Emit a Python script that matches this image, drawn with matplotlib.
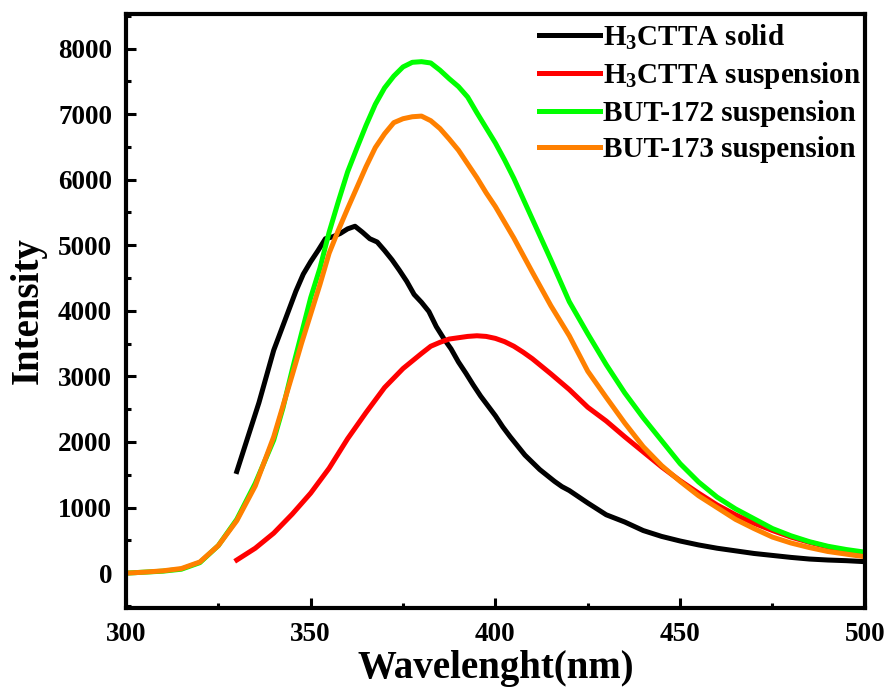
import matplotlib
matplotlib.use("Agg")
import matplotlib.pyplot as plt
from matplotlib.ticker import MultipleLocator

# H3CTTA solid
wl_solid = [330, 332, 334, 336, 338, 340, 342, 344, 346, 348, 350, 352, 354, 356, 358,
            360, 362, 364, 366, 368, 370, 372, 374, 376, 378, 380, 382, 384, 386, 388,
            390, 392, 394, 396, 398, 400, 402, 404, 406, 408, 410, 412, 414, 416, 418,
            420, 425, 430, 435, 440, 445, 450, 455, 460, 465, 470, 475, 480, 485, 490,
            495, 500]
int_solid = [1550, 1900, 2250, 2600, 3000, 3400, 3700, 4000, 4300, 4560, 4750, 4920, 5100,
             5130, 5180, 5250, 5290, 5200, 5100, 5050, 4920, 4780, 4620, 4450, 4250, 4130,
             3990, 3760, 3580, 3420, 3220, 3050, 2870, 2700, 2550, 2400, 2230, 2080, 1940,
             1800, 1690, 1580, 1490, 1400, 1320, 1260, 1070, 890, 780, 650, 560, 490, 430,
             380, 340, 300, 270, 240, 215, 200, 190, 175]

# H3CTTA suspension
wl_susp = [330, 335, 340, 345, 350, 355, 360, 365, 370, 375, 380, 382.5, 385, 387.5,
           390, 392.5, 395, 397.5, 400, 402.5, 405, 407.5, 410, 415, 420, 425, 430, 435,
           440, 445, 450, 455, 460, 465, 470, 475, 480, 485, 490, 495, 500]
int_susp = [200, 380, 610, 900, 1220, 1600, 2050, 2450, 2830, 3120, 3350, 3460, 3520,
            3570, 3590, 3610, 3620, 3610, 3580, 3530, 3460, 3370, 3270, 3040, 2800, 2530,
            2320, 2080, 1850, 1620, 1410, 1220, 1040, 890, 760, 650, 550, 470, 400, 330,
            280]

# BUT-172 / BUT-173 suspensions
wl_but = [300, 305, 310, 315, 320, 325, 330, 335, 340, 342.5, 345, 347.5, 350, 352.5,
          355, 357.5, 360, 362.5, 365, 367.5, 370, 372.5, 375, 377.5, 380, 382.5, 385,
          387.5, 390, 392.5, 395, 397.5, 400, 402.5, 405, 410, 415, 420, 425, 430, 435,
          440, 445, 450, 455, 460, 465, 470, 475, 480, 485, 490, 495, 500]
int_but172 = [0, 15, 30, 60, 160, 420, 820, 1370, 2030, 2520, 3100, 3650, 4200, 4650,
              5200, 5670, 6120, 6480, 6830, 7150, 7400, 7580, 7720, 7790, 7800, 7780,
              7670, 7540, 7420, 7260, 7020, 6790, 6560, 6300, 6020, 5400, 4780, 4140,
              3650, 3180, 2750, 2370, 2020, 1670, 1390, 1160, 980, 830, 680, 570, 480,
              410, 360, 320]
int_but173 = [0, 15, 35, 70, 170, 420, 800, 1330, 2080, 2550, 3020, 3500, 3950, 4400,
              4880, 5230, 5560, 5880, 6200, 6490, 6700, 6870, 6930, 6960, 6970, 6900,
              6780, 6620, 6450, 6240, 6030, 5800, 5590, 5350, 5110, 4590, 4080, 3620,
              3080, 2680, 2290, 1930, 1640, 1400, 1180, 1000, 820, 680, 550, 460, 390,
              330, 290, 250]

plt.rcParams['font.family'] = 'Liberation Serif'
plt.rcParams['font.weight'] = 'bold'
plt.rcParams['mathtext.fontset'] = 'custom'
plt.rcParams['mathtext.rm'] = 'Liberation Serif:bold'
plt.rcParams['mathtext.bf'] = 'Liberation Serif:bold'
plt.rcParams['mathtext.it'] = 'Liberation Serif:bold'
plt.rcParams['mathtext.default'] = 'bf'

fig = plt.figure(figsize=(8.87, 6.90), dpi=100)
ax = fig.add_axes([0.142, 0.119, 0.833, 0.861])

lw = 3.6
ax.plot(wl_solid, int_solid, color='black', lw=lw, label='H$_3$CTTA solid')
ax.plot(wl_susp, int_susp, color='#ff0000', lw=lw, label='H$_3$CTTA suspension')
ax.plot(wl_but, int_but172, color='#00ff00', lw=lw, label='BUT-172 suspension')
ax.plot(wl_but, int_but173, color='#ff8000', lw=lw, label='BUT-173 suspension')

ax.set_xlim(300, 500)
ax.set_ylim(-530, 8530)
ax.xaxis.set_major_locator(MultipleLocator(50))
ax.xaxis.set_minor_locator(MultipleLocator(25))
ax.yaxis.set_major_locator(MultipleLocator(1000))
ax.yaxis.set_minor_locator(MultipleLocator(500))
ax.tick_params(which='both', direction='in', width=2.2, top=False, right=False,
               labelsize=19.5)
ax.tick_params(which='major', length=7)
ax.tick_params(which='minor', length=3.5)
ax.tick_params(axis='x', pad=10)
ax.tick_params(axis='y', pad=10)
for s in ax.spines.values():
    s.set_linewidth(3)

ax.set_xlabel('Wavelenght(nm)', fontsize=28, fontweight='bold', labelpad=2)
ax.set_ylabel('Intensity', fontsize=28, fontweight='bold', labelpad=8)

ax.legend(loc='upper right', bbox_to_anchor=(1.0, 0.993), frameon=False,
          fontsize=21, handlelength=2.1, handletextpad=0.08, labelspacing=0.3,
          borderaxespad=0.0, borderpad=0.15)

fig.savefig('out.png', dpi=100)
